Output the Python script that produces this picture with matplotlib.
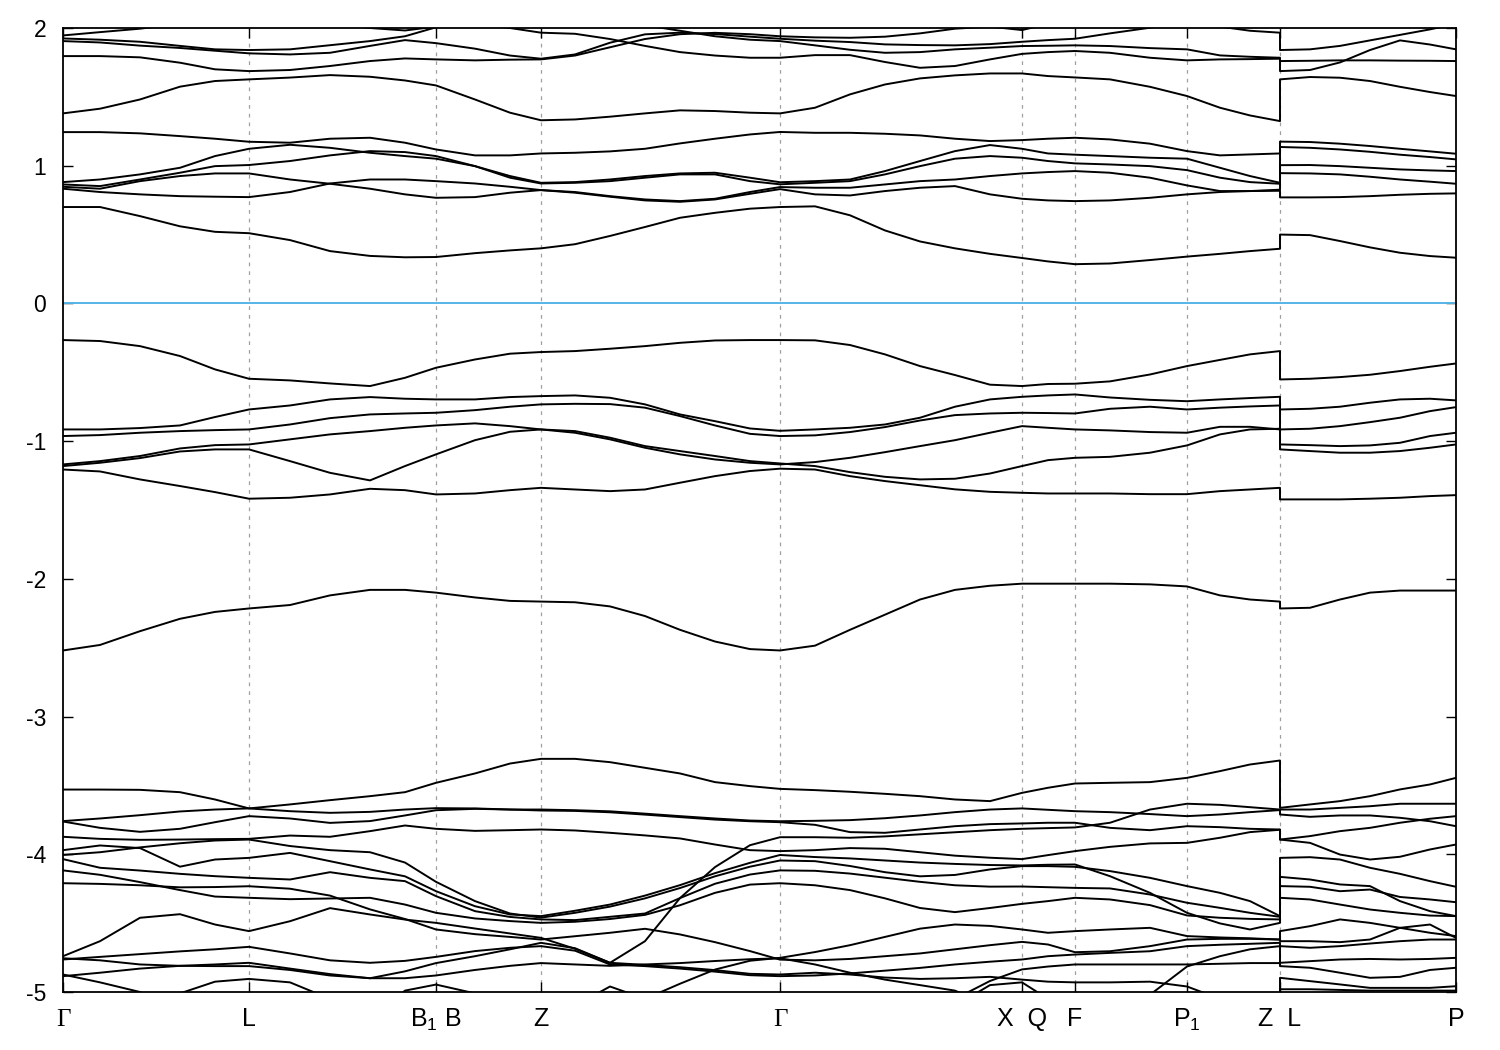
import matplotlib
matplotlib.use("Agg")
import matplotlib.pyplot as plt
from matplotlib.transforms import ScaledTranslation

plt.rcParams['font.family'] = ['Liberation Sans', 'DejaVu Sans']
plt.rcParams['mathtext.fontset'] = 'custom'
plt.rcParams['mathtext.rm'] = 'Liberation Sans'
plt.rcParams['mathtext.it'] = 'Liberation Sans:italic'
plt.rcParams['mathtext.bf'] = 'Liberation Sans:bold'
plt.rcParams['axes.unicode_minus'] = False

# ---------------- k-path ----------------
k_left = [0.000, 0.037, 0.077, 0.117, 0.152, 0.186, 0.227, 0.267, 0.307, 0.342, 0.373, 0.412,
          0.447, 0.478, 0.512, 0.547, 0.582, 0.617, 0.652, 0.687, 0.717, 0.752, 0.787, 0.822,
          0.857, 0.892, 0.927, 0.959, 0.985, 1.012, 1.047, 1.087, 1.124, 1.157, 1.187, 1.217]
k_right = [1.217, 1.247, 1.277, 1.307, 1.337, 1.367, 1.393]
tick_k = [0.0, 0.186, 0.373, 0.478, 0.717, 0.959, 1.012, 1.124, 1.217, 1.393]
tick_labels = ['Γ', 'L', r'B$_{\mathrm{1}}$ B', 'Z', 'Γ', 'X  Q', 'F', r'P$_{\mathrm{1}}$', 'Z  L', 'P']
y_ticks = [-5, -4, -3, -2, -1, 0, 1, 2]

# ---------------- bands on Γ-L-B1|B-Z-Γ-X|Q-F-P1-Z ----------------
C1_L = [0.70, 0.70, 0.634, 0.56, 0.52, 0.51, 0.46, 0.38, 0.345, 0.335, 0.337, 0.365, 0.385, 0.40,
        0.43, 0.49, 0.555, 0.622, 0.658, 0.688, 0.70, 0.705, 0.64, 0.53, 0.45, 0.40, 0.36, 0.33,
        0.305, 0.285, 0.29, 0.315, 0.34, 0.36, 0.38, 0.397]
S_L = [0.833, 0.809, 0.792, 0.779, 0.775, 0.772, 0.809, 0.871, 0.90, 0.90, 0.888, 0.871, 0.847, 0.823,
       0.804, 0.775, 0.748, 0.738, 0.755, 0.796, 0.83, 0.792, 0.784, 0.816, 0.84, 0.852, 0.792, 0.760,
       0.748, 0.743, 0.748, 0.767, 0.792, 0.809, 0.816, 0.818]
R_L = [0.847, 0.833, 0.888, 0.925, 0.944, 0.944, 0.90, 0.869, 0.833, 0.792, 0.767, 0.772, 0.804, 0.823,
       0.809, 0.779, 0.755, 0.743, 0.760, 0.809, 0.845, 0.84, 0.84, 0.864, 0.888, 0.90, 0.925, 0.944,
       0.954, 0.961, 0.949, 0.913, 0.857, 0.816, 0.816, 0.826]
Q_L = [0.864, 0.852, 0.90, 0.949, 0.997, 1.005, 1.034, 1.075, 1.106, 1.099, 1.07, 0.997, 0.913, 0.871,
       0.876, 0.888, 0.913, 0.937, 0.937, 0.888, 0.865, 0.876, 0.888, 0.937, 0.997, 1.051, 1.07, 1.058,
       1.034, 1.017, 1.009, 0.997, 0.968, 0.913, 0.881, 0.869]
P_L = [0.881, 0.90, 0.937, 0.985, 1.07, 1.123, 1.152, 1.130, 1.094, 1.07, 1.051, 0.997, 0.925, 0.876,
       0.881, 0.90, 0.925, 0.944, 0.949, 0.913, 0.88, 0.888, 0.90, 0.961, 1.034, 1.106, 1.15, 1.123,
       1.089, 1.08, 1.07, 1.058, 1.051, 0.985, 0.925, 0.876]
T1_L = [1.244, 1.244, 1.235, 1.215, 1.196, 1.174, 1.167, 1.196, 1.203, 1.167, 1.118, 1.075, 1.075, 1.089,
        1.094, 1.104, 1.123, 1.162, 1.196, 1.227, 1.245, 1.239, 1.239, 1.232, 1.22, 1.196, 1.179, 1.186,
        1.196, 1.203, 1.191, 1.160, 1.106, 1.075, 1.082, 1.089]
U1_L = [1.38, 1.414, 1.481, 1.574, 1.615, 1.627, 1.64, 1.658, 1.646, 1.619, 1.583, 1.481, 1.385, 1.33,
        1.336, 1.356, 1.38, 1.402, 1.397, 1.385, 1.38, 1.421, 1.518, 1.59, 1.634, 1.656, 1.67, 1.67,
        1.651, 1.641, 1.627, 1.573, 1.506, 1.421, 1.365, 1.324]
Ha_L = [1.946, 1.97, 1.995, 2.03, 2.05, 2.06, 2.05, 2.03, 2.0, 1.982, 2.01, 2.03, 2.0, 1.966,
        1.958, 1.92, 1.87, 1.825, 1.80, 1.784, 1.784, 1.803, 1.803, 1.753, 1.711, 1.724, 1.772, 1.812,
        1.825, 1.833, 1.82, 1.784, 1.765, 1.772, 1.774, 1.777]
Hb_L = [1.924, 1.915, 1.90, 1.87, 1.845, 1.84, 1.845, 1.875, 1.905, 1.94, 2.005, 2.05, 2.08, 2.1,
        2.09, 2.06, 2.02, 1.98, 1.94, 1.915, 1.905, 1.874, 1.842, 1.82, 1.825, 1.845, 1.857, 1.869,
        1.871, 1.874, 1.869, 1.854, 1.845, 1.801, 1.791, 1.784]
Hc_L = [1.905, 1.895, 1.872, 1.855, 1.835, 1.816, 1.808, 1.82, 1.87, 1.912, 1.89, 1.85, 1.80, 1.777,
        1.808, 1.893, 1.954, 1.966, 1.956, 1.937, 1.922, 1.908, 1.898, 1.881, 1.876, 1.874, 1.883, 1.90,
        1.912, 1.922, 1.961, 2.002, 2.04, 2.07, 2.09, 2.1]
Hd_L = [1.796, 1.796, 1.787, 1.748, 1.70, 1.687, 1.695, 1.724, 1.76, 1.779, 1.772, 1.765, 1.77, 1.772,
        1.80, 1.86, 1.92, 1.955, 1.965, 1.955, 1.94, 1.932, 1.929, 1.937, 1.961, 1.995, 2.01, 1.985,
        2.03, 2.06, 2.08, 2.1, 2.1, 2.1, 2.1, 2.1]
He_L = [2.2, 2.2, 2.2, 2.2, 2.2, 2.2, 2.2, 2.2, 2.2, 2.2, 2.2, 2.2, 2.2, 2.2,
        2.2, 2.2, 2.2, 2.2, 2.2, 2.2, 2.2, 2.2, 2.2, 2.2, 2.2, 2.2, 2.2, 2.2,
        2.15, 2.12, 2.1, 2.07, 2.04, 2.01, 1.98, 1.966]

VB1_L = [-0.266, -0.273, -0.310, -0.382, -0.479, -0.547, -0.559, -0.581, -0.600, -0.540, -0.467, -0.407,
         -0.365, -0.353, -0.346, -0.329, -0.310, -0.286, -0.269, -0.266, -0.266, -0.268, -0.302, -0.37,
         -0.455, -0.52, -0.59, -0.60, -0.585, -0.583, -0.566, -0.516, -0.455, -0.41, -0.37, -0.346]
A_L = [-0.915, -0.915, -0.905, -0.886, -0.825, -0.770, -0.741, -0.697, -0.680, -0.692, -0.697, -0.697,
       -0.680, -0.673, -0.668, -0.685, -0.733, -0.806, -0.855, -0.908, -0.925, -0.915, -0.903, -0.879,
       -0.83, -0.75, -0.697, -0.678, -0.668, -0.661, -0.683, -0.70, -0.71, -0.697, -0.687, -0.678]
B_L = [-0.963, -0.956, -0.939, -0.927, -0.920, -0.915, -0.879, -0.833, -0.806, -0.799, -0.794, -0.775,
       -0.75, -0.733, -0.729, -0.731, -0.757, -0.818, -0.886, -0.947, -0.963, -0.958, -0.934, -0.898,
       -0.85, -0.811, -0.799, -0.794, -0.796, -0.799, -0.765, -0.75, -0.77, -0.757, -0.748, -0.741]
D_L = [-1.169, -1.145, -1.108, -1.053, -1.029, -1.024, -0.987, -0.951, -0.927, -0.903, -0.886, -0.871,
       -0.891, -0.915, -0.927, -0.975, -1.036, -1.072, -1.108, -1.145, -1.162, -1.181, -1.225, -1.259,
       -1.278, -1.273, -1.235, -1.181, -1.138, -1.121, -1.114, -1.084, -1.031, -0.951, -0.915, -0.91]
E_L = [-1.181, -1.157, -1.123, -1.075, -1.06, -1.06, -1.145, -1.23, -1.285, -1.181, -1.096, -0.993,
       -0.932, -0.915, -0.939, -0.987, -1.048, -1.096, -1.133, -1.157, -1.169, -1.152, -1.121, -1.08,
       -1.036, -0.993, -0.939, -0.891, -0.903, -0.915, -0.922, -0.934, -0.939, -0.896, -0.896, -0.915]
F_L = [-1.206, -1.22, -1.278, -1.326, -1.37, -1.418, -1.411, -1.387, -1.346, -1.356, -1.387, -1.38,
       -1.356, -1.339, -1.351, -1.363, -1.351, -1.302, -1.254, -1.217, -1.2, -1.206, -1.254, -1.29,
       -1.32, -1.35, -1.368, -1.375, -1.38, -1.38, -1.38, -1.385, -1.385, -1.363, -1.351, -1.339]
VB7_L = [-2.52, -2.48, -2.38, -2.29, -2.24, -2.215, -2.19, -2.12, -2.08, -2.08, -2.10, -2.135,
         -2.16, -2.165, -2.17, -2.20, -2.27, -2.37, -2.455, -2.51, -2.52, -2.485, -2.37, -2.26,
         -2.15, -2.08, -2.05, -2.035, -2.035, -2.035, -2.035, -2.04, -2.055, -2.12, -2.15, -2.165]

W1_L = [-3.759, -3.74, -3.716, -3.689, -3.675, -3.667, -3.638, -3.607, -3.578, -3.549, -3.481, -3.413,
        -3.341, -3.307, -3.307, -3.331, -3.372, -3.413, -3.476, -3.505, -3.525, -3.534, -3.546, -3.561,
        -3.578, -3.602, -3.614, -3.554, -3.517, -3.486, -3.481, -3.476, -3.445, -3.396, -3.348, -3.319]
W2_L = [-3.53, -3.53, -3.532, -3.549, -3.602, -3.667, -3.687, -3.699, -3.692, -3.675, -3.665, -3.667,
        -3.675, -3.675, -3.68, -3.688, -3.705, -3.723, -3.74, -3.755, -3.76, -3.757, -3.752, -3.738,
        -3.718, -3.694, -3.675, -3.667, -3.677, -3.687, -3.694, -3.708, -3.723, -3.711, -3.694, -3.679]
W3_L = [-3.762, -3.808, -3.837, -3.815, -3.767, -3.723, -3.74, -3.772, -3.759, -3.718, -3.68, -3.67,
        -3.675, -3.682, -3.685, -3.695, -3.712, -3.73, -3.748, -3.76, -3.767, -3.786, -3.839, -3.844,
        -3.82, -3.796, -3.781, -3.776, -3.771, -3.771, -3.808, -3.825, -3.796, -3.803, -3.815, -3.82]
W4_L = [-3.873, -3.888, -3.895, -3.893, -3.89, -3.888, -3.864, -3.873, -3.832, -3.791, -3.815, -3.83,
        -3.825, -3.82, -3.827, -3.844, -3.863, -3.885, -3.929, -3.97, -3.977, -3.97, -3.955, -3.96,
        -3.985, -4.01, -4.025, -4.035, -4.006, -3.977, -3.946, -3.921, -3.917, -3.88, -3.839, -3.822]
W5_L = [-4.74, -4.631, -4.461, -4.435, -4.51, -4.558, -4.486, -4.391, -4.437, -4.474, -4.498, -4.539,
        -4.575, -4.607, -4.686, -4.788, -4.631, -4.318, -4.093, -3.934, -3.876, -3.876, -3.88, -3.87,
        -3.855, -3.84, -3.825, -3.815, -3.81, -3.805, -3.771, -3.675, -3.633, -3.641, -3.658, -3.675]
D1_L = [-3.97, -3.936, -3.955, -4.09, -4.038, -4.026, -3.99, -4.05, -4.11, -4.16, -4.268, -4.377,
        -4.437, -4.449, -4.41, -4.365, -4.3, -4.224, -4.137, -4.062, -4.005, -4.02, -4.03, -4.045,
        -4.06, -4.07, -4.078, -4.081, -4.076, -4.074, -4.159, -4.28, -4.425, -4.502, -4.546, -4.498]
D2_L = [-4.005, -3.985, -3.95, -3.92, -3.9, -3.893, -3.94, -3.97, -3.985, -4.06, -4.2, -4.34,
        -4.43, -4.46, -4.425, -4.38, -4.32, -4.245, -4.16, -4.09, -4.045, -4.05, -4.085, -4.13,
        -4.16, -4.15, -4.11, -4.086, -4.086, -4.091, -4.122, -4.171, -4.231, -4.28, -4.34, -4.449]
D3_L = [-4.035, -4.098, -4.118, -4.142, -4.159, -4.171, -4.183, -4.13, -4.171, -4.195, -4.304, -4.413,
        -4.455, -4.473, -4.478, -4.454, -4.43, -4.318, -4.214, -4.147, -4.117, -4.12, -4.14, -4.17,
        -4.2, -4.225, -4.235, -4.234, -4.239, -4.244, -4.248, -4.292, -4.352, -4.389, -4.425, -4.454]
D4_L = [-4.117, -4.149, -4.202, -4.26, -4.307, -4.316, -4.326, -4.321, -4.316, -4.365, -4.425, -4.466,
        -4.485, -4.498, -4.49, -4.47, -4.44, -4.37, -4.28, -4.22, -4.21, -4.225, -4.26, -4.32,
        -4.39, -4.42, -4.39, -4.36, -4.34, -4.316, -4.328, -4.369, -4.444, -4.461, -4.469, -4.473]
D5_L = [-4.21, -4.215, -4.225, -4.24, -4.238, -4.232, -4.25, -4.3, -4.4, -4.47, -4.546, -4.58,
        -4.6, -4.619, -4.595, -4.57, -4.541, -4.582, -4.638, -4.703, -4.765, -4.77, -4.76, -4.74,
        -4.72, -4.69, -4.66, -4.636, -4.655, -4.711, -4.704, -4.667, -4.619, -4.614, -4.614, -4.619]
D6_L = [-4.755, -4.77, -4.8, -4.81, -4.812, -4.812, -4.84, -4.88, -4.9, -4.85, -4.79, -4.74,
        -4.69, -4.643, -4.682, -4.788, -4.803, -4.82, -4.841, -4.868, -4.873, -4.86, -4.873, -4.895,
        -4.905, -4.9, -4.89, -4.91, -4.925, -4.93, -4.93, -4.925, -4.96, -5.05, -5.15, -5.2]
D7_L = [-4.764, -4.745, -4.725, -4.705, -4.69, -4.672, -4.72, -4.77, -4.788, -4.774, -4.745, -4.703,
        -4.679, -4.667, -4.7, -4.8, -4.812, -4.83, -4.852, -4.878, -4.885, -4.88, -4.865, -4.845,
        -4.825, -4.8, -4.78, -4.764, -4.74, -4.728, -4.716, -4.704, -4.667, -4.657, -4.65, -4.643]
D8_L = [-4.885, -4.86, -4.83, -4.81, -4.8, -4.788, -4.83, -4.87, -4.9, -4.9, -4.88, -4.84,
        -4.81, -4.79, -4.8, -4.81, -4.8, -4.79, -4.775, -4.762, -4.755, -4.8, -4.86, -4.91,
        -4.95, -4.99, -5.1, -5.2, -5.3, -5.3, -5.3, -5.3, -5.3, -5.3, -5.3, -5.3]
D9_L = [-4.873, -4.93, -5.0, -5.1, -5.2, -5.3, -5.3, -5.3, -5.3, -5.3, -5.3, -5.3,
        -5.3, -5.3, -5.3, -5.25, -5.05, -4.94, -4.837, -4.773, -4.752, -4.71, -4.66, -4.6,
        -4.54, -4.51, -4.52, -4.546, -4.57, -4.558, -4.546, -4.534, -4.594, -4.604, -4.61, -4.619]
D10_L = [-5.3, -5.3, -5.3, -5.3, -5.3, -5.3, -5.3, -5.3, -5.3, -5.3, -5.3, -5.3,
         -5.3, -5.3, -5.3, -5.3, -5.3, -5.3, -5.3, -5.3, -5.3, -5.3, -5.3, -5.3,
         -5.2, -5.05, -4.92, -4.836, -4.815, -4.8, -4.8, -4.8, -4.8, -4.795, -4.79, -4.79]
D11_L = [-5.3, -5.3, -5.2, -5.01, -4.925, -4.905, -4.93, -5.05, -5.2, -5.3, -5.3, -5.3,
         -5.3, -5.3, -5.3, -5.3, -5.3, -5.3, -5.3, -5.3, -5.3, -5.3, -5.3, -5.3,
         -5.3, -5.1, -4.95, -4.93, -5.05, -5.3, -5.3, -5.3, -5.3, -5.3, -5.3, -5.3]
D12_L = [-5.3, -5.3, -5.3, -5.3, -5.3, -5.3, -5.3, -5.3, -5.2, -4.99, -4.946, -5.01,
         -5.2, -5.3, -5.1, -4.96, -5.05, -5.3, -5.3, -5.3, -5.3, -5.3, -5.3, -5.3,
         -5.3, -5.3, -5.3, -5.3, -5.3, -5.3, -5.3, -5.02, -4.815, -4.74, -4.69, -4.667]

# ---------------- bands on L-P ----------------
C1_R = [0.50, 0.496, 0.453, 0.407, 0.368, 0.344, 0.332]
S_R = [0.77, 0.77, 0.772, 0.779, 0.789, 0.796, 0.799]
R_R = [0.946, 0.944, 0.937, 0.92, 0.90, 0.884, 0.869]
Q_R = [1.004, 1.005, 0.997, 0.985, 0.973, 0.966, 0.961]
P_R = [1.136, 1.13, 1.118, 1.101, 1.08, 1.063, 1.046]
T1_R = [1.175, 1.172, 1.160, 1.143, 1.123, 1.104, 1.087]
U1_R = [1.627, 1.644, 1.639, 1.615, 1.573, 1.535, 1.506]
H2_R = [1.687, 1.695, 1.75, 1.84, 1.91, 1.88, 1.845]
H3_R = [1.76, 1.762, 1.765, 1.765, 1.763, 1.762, 1.76]
H1_R = [1.84, 1.845, 1.87, 1.91, 1.95, 1.99, 2.03]
H4_R = [2.25, 2.25, 2.25, 2.25, 2.25, 2.25, 2.25]
H5_R = [2.2, 2.2, 2.2, 2.2, 2.2, 2.2, 2.2]

VB1_R = [-0.552, -0.547, -0.535, -0.518, -0.491, -0.46, -0.436]
A_R = [-0.77, -0.765, -0.75, -0.721, -0.697, -0.692, -0.704]
B_R = [-0.915, -0.91, -0.891, -0.862, -0.83, -0.782, -0.753]
D_R = [-1.024, -1.029, -1.036, -1.031, -1.012, -0.963, -0.939]
E_R = [-1.06, -1.072, -1.084, -1.084, -1.072, -1.048, -1.024]
F_R = [-1.423, -1.423, -1.423, -1.418, -1.411, -1.399, -1.392]
VB7_R = [-2.215, -2.21, -2.15, -2.10, -2.085, -2.085, -2.085]

R1_R = [-3.663, -3.638, -3.614, -3.578, -3.529, -3.493, -3.445]
R2_R = [-3.675, -3.675, -3.663, -3.651, -3.633, -3.633, -3.633]
R3_R = [-3.711, -3.728, -3.718, -3.718, -3.735, -3.76, -3.796]
R4_R = [-3.893, -3.868, -3.832, -3.808, -3.771, -3.742, -3.723]
R5_R = [-3.893, -3.917, -4.002, -4.038, -4.018, -3.965, -3.929]
R6_R = [-4.026, -4.021, -4.038, -4.098, -4.142, -4.195, -4.236]
R7_R = [-4.164, -4.183, -4.219, -4.231, -4.34, -4.413, -4.449]
R8_R = [-4.231, -4.236, -4.268, -4.256, -4.31, -4.328, -4.348]
R9_R = [-4.316, -4.328, -4.365, -4.401, -4.425, -4.445, -4.449]
R10_R = [-4.558, -4.522, -4.473, -4.498, -4.534, -4.57, -4.594]
R11_R = [-4.631, -4.631, -4.638, -4.619, -4.534, -4.51, -4.607]
R12_R = [-4.667, -4.679, -4.667, -4.648, -4.631, -4.619, -4.619]
R13_R = [-4.788, -4.776, -4.764, -4.76, -4.764, -4.76, -4.752]
R14_R = [-4.812, -4.824, -4.86, -4.897, -4.89, -4.84, -4.824]
R15_R = [-4.897, -4.921, -4.945, -4.97, -4.97, -4.97, -4.958]
R16_R = [-4.98, -4.98, -4.985, -4.99, -4.99, -4.99, -4.99]

left_bands = [C1_L, S_L, R_L, Q_L, P_L, T1_L, U1_L, Ha_L, Hb_L, Hc_L, Hd_L, He_L,
              VB1_L, A_L, B_L, D_L, E_L, F_L, VB7_L,
              W1_L, W2_L, W3_L, W4_L, W5_L, D1_L, D2_L, D3_L, D4_L, D5_L, D6_L,
              D7_L, D8_L, D9_L, D10_L, D11_L, D12_L]
right_bands = [C1_R, S_R, R_R, Q_R, P_R, T1_R, U1_R, H1_R, H2_R, H3_R, H4_R, H5_R,
               VB1_R, A_R, B_R, D_R, E_R, F_R, VB7_R,
               R1_R, R2_R, R3_R, R4_R, R5_R, R6_R, R7_R, R8_R, R9_R, R10_R, R11_R,
               R12_R, R13_R, R14_R, R15_R, R16_R]

# ---------------- figure ----------------
fig = plt.figure(figsize=(15, 10.5), dpi=100)
ax = fig.add_axes([63 / 1500, 1 - 992 / 1050, (1456 - 63) / 1500, (992 - 28) / 1050])

for kx in tick_k[1:-1]:
    ax.axvline(kx, color='#a0a0a0', lw=0.9, ls=(0, (3, 4)), zorder=1)

# join bands across the Z|L discontinuity in energy order
left_sorted = sorted(left_bands, key=lambda b: b[-1], reverse=True)
right_sorted = sorted(right_bands, key=lambda b: b[0], reverse=True)
for i, lb in enumerate(left_sorted):
    if i < len(right_sorted):
        xs = k_left + k_right
        ys = lb + right_sorted[i]
    else:
        xs = k_left
        ys = lb
    ax.plot(xs, ys, color='black', lw=1.4, solid_joinstyle='round', zorder=3)

ax.axhline(0, color='#56B4E9', lw=1.4, zorder=4)

ax.set_xlim(tick_k[0], tick_k[-1])
ax.set_ylim(-5, 2)
ax.set_yticks(y_ticks)
ax.set_yticklabels([str(v) for v in y_ticks])
ax.set_xticks(tick_k)
ax.set_xticklabels(tick_labels)

ax.tick_params(axis='both', direction='in', length=7.5, width=1.0, top=True, right=True)
ax.tick_params(axis='y', labelsize=16.5, pad=12)
ax.tick_params(axis='x', labelsize=18, pad=11)

gamma_shift = ScaledTranslation(0, -1.3 / 72, fig.dpi_scale_trans)
for lab in ax.get_xticklabels():
    if lab.get_text() == 'Γ':
        lab.set_fontfamily(['Liberation Serif', 'DejaVu Serif'])
        lab.set_transform(lab.get_transform() + gamma_shift)

for sp in ax.spines.values():
    sp.set_linewidth(1.3)
    sp.set_zorder(5)

fig.savefig('out.png', dpi=100)
